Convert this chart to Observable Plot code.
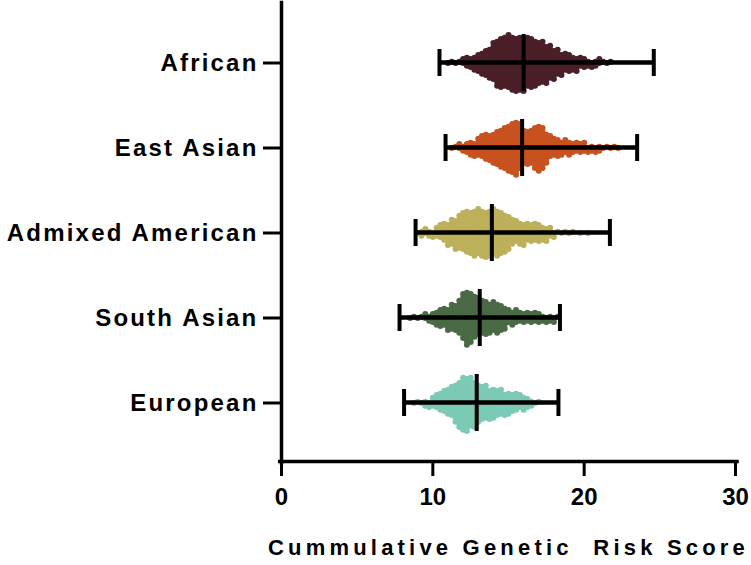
<!DOCTYPE html>
<html>
<head>
<meta charset="utf-8">
<script src="https://cdn.jsdelivr.net/npm/d3@7"></script>
<script src="https://cdn.jsdelivr.net/npm/@observablehq/plot@0.6"></script>
<style>
  html, body { margin: 0; padding: 0; background: #fff; }
  #chart svg { font-family: "Liberation Sans", Arial, sans-serif; }
  #chart svg text { font-family: "Liberation Sans", Arial, sans-serif; font-weight: bold; fill: #000; }
  g[aria-label="fy-axis tick label"] text { letter-spacing: 2.2px; }
  g[aria-label="x-axis label"] text { letter-spacing: 4.2px; white-space: pre; font-size: 22px; }
</style>
</head>
<body>
<div id="chart"></div>
<script>
const groups = ["African", "East Asian", "Admixed American", "South Asian", "European"];
const colors = ["#4b1f27", "#c8521f", "#bdb05a", "#4a6945", "#7ccab5"];
const xTicks = [0, 10, 20, 30];
const xTitle = "Cummulative Genetic  Risk Score";

// histogram of scores (bin width 0.25)
const binWidth = 0.25;
const binStart = [10.75, 11.25, 9.0, 8.5, 8.75];
const africanCounts = [0,1,1,1,1,2,3,3,4,5,6,7,8,10,12,13,13,14,14,14,14,14,13,13,12,11,11,10,9,8,7,6,5,5,4,4,3,3,2,2,2,2,1,1,1];
const eastAsianCounts = [1,1,2,2,3,4,4,5,6,7,7,8,9,10,11,12,13,14,12,9,9,9,11,12,11,8,6,5,5,4,4,4,3,3,3,3,2,2,2,2,1,1,1,1,1];
const admixedCounts = [1,2,2,2,2,3,4,5,6,7,8,9,10,11,11,12,12,12,12,12,12,12,11,10,9,7,6,6,6,5,5,5,5,4,4,3,2,1,1,1,1,1,0,1,0,1];
const southAsianCounts = [1,1,1,1,2,2,3,4,5,5,6,7,7,9,12,14,13,11,10,9,9,8,8,8,7,6,4,4,4,3,3,3,3,3,3,2,2,2,2,1];
const europeanCounts = [1,1,1,2,2,3,4,5,6,7,8,10,12,14,14,13,12,10,9,9,8,8,7,7,6,6,5,5,4,4,3,2,1,1];
const counts = [africanCounts, eastAsianCounts, admixedCounts, southAsianCounts, europeanCounts];

// summary bars: min, median, max
const minVals = [10.44, 10.84, 8.86, 7.8, 8.1];
const medianVals = [16.0, 15.9, 13.9, 13.1, 12.9];
const maxVals = [24.6, 23.5, 21.7, 18.4, 18.3];

const points = [];
groups.forEach((g, gi) => {
  counts[gi].forEach((c, i) => {
    for (let k = 0; k < c; k++) points.push({group: g, value: binStart[gi] + i * binWidth});
  });
});
const summary = groups.map((g, i) => ({group: g, min: minVals[i], median: medianVals[i], max: maxVals[i]}));

const chart = Plot.plot({
  width: 751,
  height: 565,
  marginLeft: 281,
  marginRight: 16,
  marginTop: 20,
  marginBottom: 120,
  style: {background: "#fff", color: "#000"},
  x: {domain: [0, 30]},
  fy: {domain: groups, paddingInner: 0, paddingOuter: 0, label: null},
  color: {domain: groups, range: colors},
  marks: [
    Plot.dot(points, Plot.dodgeY({anchor: "middle", padding: -2, x: "value", fy: "group", r: 3, fill: "group"})),
    Plot.rect(summary, {x1: "min", x2: "max", fy: "group", fill: "#000", insetTop: 40.25, insetBottom: 40.25}),
    Plot.ruleX(summary, {x: "median", fy: "group", stroke: "#000", strokeWidth: 4, insetTop: 14, insetBottom: 14}),
    Plot.ruleX(summary, {x: "min", fy: "group", stroke: "#000", strokeWidth: 4, insetTop: 29, insetBottom: 29}),
    Plot.ruleX(summary, {x: "max", fy: "group", stroke: "#000", strokeWidth: 4, insetTop: 29, insetBottom: 29}),
    Plot.frame({anchor: "left", facet: "super", stroke: "#000", strokeWidth: 3.5, insetTop: -18, insetBottom: -17.5}),
    Plot.frame({anchor: "bottom", facet: "super", stroke: "#000", strokeWidth: 3.5, insetBottom: -16, insetLeft: -1.75, insetRight: -1.5}),
    Plot.axisFy({anchor: "left", tickSize: 18, tickPadding: 5, fontSize: 24, strokeWidth: 3, label: null}),
    Plot.axisX({ticks: xTicks, tickSize: 15, tickPadding: 11, fontSize: 24, strokeWidth: 3, dy: 16,
      label: xTitle, labelAnchor: "center", labelArrow: "none", labelOffset: 109})
  ]
});
document.getElementById("chart").appendChild(chart);
</script>
</body>
</html>
